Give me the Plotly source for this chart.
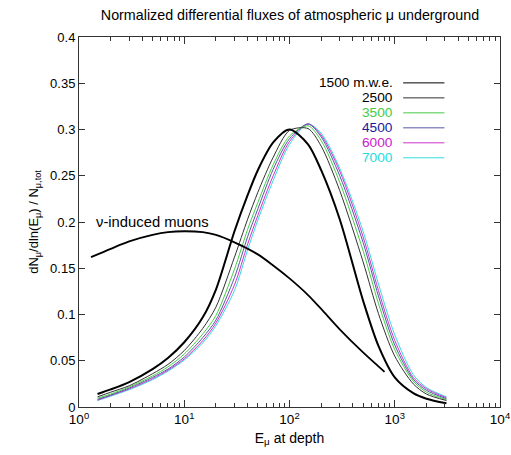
import plotly.graph_objects as go

# ---------------- data ----------------
energy_grid = [1.5, 2, 3, 5, 7, 10, 15, 20, 30, 40, 50, 70, 100, 150, 200,
               300, 500, 700, 1000, 1500, 2000, 3100]

flux_1500 = [0.014, 0.019, 0.027, 0.041, 0.053, 0.070, 0.097, 0.127, 0.190, 0.229, 0.256, 0.286,
             0.300, 0.284, 0.256, 0.203, 0.115, 0.066, 0.032, 0.015, 0.009, 0.004]
flux_2500 = [0.011, 0.016, 0.023, 0.036, 0.046, 0.061, 0.085, 0.108, 0.162, 0.203, 0.232, 0.270,
             0.299, 0.301, 0.282, 0.234, 0.157, 0.101, 0.055, 0.025, 0.014, 0.007]
flux_3500 = [0.0095, 0.014, 0.0217, 0.0336, 0.0434, 0.0572, 0.079, 0.099, 0.149, 0.192, 0.221, 0.262,
             0.293, 0.304, 0.288, 0.243, 0.169, 0.112, 0.062, 0.028, 0.016, 0.008]
flux_4500 = [0.0083, 0.013, 0.0205, 0.032, 0.041, 0.054, 0.075, 0.094, 0.140, 0.184, 0.214, 0.257,
             0.290, 0.306, 0.292, 0.250, 0.178, 0.120, 0.067, 0.030, 0.018, 0.009]
flux_6000 = [0.0074, 0.0124, 0.0195, 0.0306, 0.0398, 0.052, 0.0717, 0.0908, 0.132, 0.176, 0.207, 0.250,
             0.287, 0.306, 0.294, 0.255, 0.184, 0.126, 0.072, 0.032, 0.0197, 0.010]
flux_7000 = [0.007, 0.0117, 0.0187, 0.0295, 0.0387, 0.0507, 0.0693, 0.088, 0.126, 0.170, 0.202, 0.245,
             0.284, 0.306, 0.296, 0.258, 0.190, 0.133, 0.078, 0.035, 0.021, 0.011]

nu_energy = [1.3, 2, 3, 5, 7, 10, 15, 20, 30, 50, 70, 100, 150, 200, 300, 500, 800]
nu_flux = [0.162, 0.171, 0.179, 0.186, 0.189, 0.190, 0.189, 0.186, 0.178, 0.165, 0.153, 0.139,
           0.121, 0.106, 0.084, 0.059, 0.038]

depth_labels = ["1500 m.w.e.", "2500", "3500", "4500", "6000", "7000"]
x_tick_vals = [1, 10, 100, 1000, 10000]
x_tick_text = ["10<sup>0</sup>", "10<sup>1</sup>", "10<sup>2</sup>", "10<sup>3</sup>", "10<sup>4</sup>"]
y_tick_vals = [0, 0.05, 0.1, 0.15, 0.2, 0.25, 0.3, 0.35, 0.4]
y_tick_text = ["0", "0.05", "0.1", "0.15", "0.2", "0.25", "0.3", "0.35", "0.4"]

# ---------------- styles ----------------
series = [flux_1500, flux_2500, flux_3500, flux_4500, flux_6000, flux_7000]
line_colors = ["#000000", "#303030", "#44cc44", "#5555a8", "#cc33cc", "#33dddd"]
text_colors = ["#000000", "#000000", "#44cc44", "#1a1a99", "#cc22cc", "#22dddd"]
line_widths = [2, 1, 1, 1, 1, 1]

FONT = "Liberation Sans, Arial, Helvetica, sans-serif"

fig = go.Figure()

# draw deeper curves first so the black ones sit on top
for idx in reversed(range(len(series))):
    fig.add_trace(go.Scatter(
        x=energy_grid, y=series[idx], mode="lines",
        line=dict(color=line_colors[idx], width=line_widths[idx], shape="spline", smoothing=0.8),
        name=depth_labels[idx], showlegend=False, hoverinfo="skip"))

fig.add_trace(go.Scatter(
    x=nu_energy, y=nu_flux, mode="lines",
    line=dict(color="#000000", width=1.8, shape="spline", smoothing=0.8),
    name="nu-induced muons", showlegend=False, hoverinfo="skip"))

# legend drawn as text + short line segments (text to the left of the line)
legend_top = 0.876
legend_step = 0.0405
for i, lab in enumerate(depth_labels):
    yy = legend_top - i * legend_step
    fig.add_annotation(xref="paper", yref="paper", x=0.750, y=yy, text=lab,
                       showarrow=False, xanchor="right", yanchor="middle",
                       font=dict(family=FONT, size=13.7, color=text_colors[i]))
    fig.add_shape(type="line", xref="paper", yref="paper", x0=0.770, x1=0.868, y0=yy, y1=yy,
                  line=dict(color=line_colors[i], width=1))

fig.add_annotation(xref="paper", yref="y", x=0.036, y=0.2, text="\u03bd-induced muons",
                   showarrow=False, xanchor="left", yanchor="middle",
                   font=dict(family=FONT, size=14.8, color="#000000"))

fig.update_layout(
    width=511, height=455,
    margin=dict(l=79, r=11, t=37, b=48, autoexpand=False),
    paper_bgcolor="white", plot_bgcolor="white",
    font=dict(family=FONT, size=13, color="#000000"),
    title=dict(text="Normalized differential fluxes of atmospheric \u03bc underground",
               x=0.5675, xanchor="center", y=0.967, yanchor="middle",
               font=dict(family=FONT, size=14.3, color="#000000")),
    showlegend=False,
)

minor_x = [m * 10 ** k for k in range(0, 4) for m in range(2, 10)]

fig.update_xaxes(
    type="log", range=[0, 4], automargin=False,
    tickmode="array", tickvals=x_tick_vals, ticktext=x_tick_text,
    ticks="inside", ticklen=7, tickcolor="#333", tickwidth=1,
    minor=dict(tickmode="array", tickvals=minor_x, ticks="inside", ticklen=4,
               tickcolor="#333", showgrid=False),
    showline=True, linecolor="#333", linewidth=1, mirror="ticks",
    showgrid=False, zeroline=False,
    tickfont=dict(family=FONT, size=13.5),
    title=dict(text="E<sub>\u03bc</sub> at depth", standoff=6, font=dict(family=FONT, size=14)),
)
fig.update_yaxes(
    range=[0, 0.4], automargin=False,
    tickmode="array", tickvals=y_tick_vals, ticktext=y_tick_text,
    ticks="inside", ticklen=6, tickcolor="#333", tickwidth=1,
    showline=True, linecolor="#333", linewidth=1, mirror="ticks",
    showgrid=False, zeroline=False,
    tickfont=dict(family=FONT, size=13),
    title=dict(text="dN<sub>\u03bc</sub>/dln(E<sub>\u03bc</sub>) / N<sub>\u03bc,tot</sub>",
               standoff=8, font=dict(family=FONT, size=13)),
)

fig.write_html("out.html")
